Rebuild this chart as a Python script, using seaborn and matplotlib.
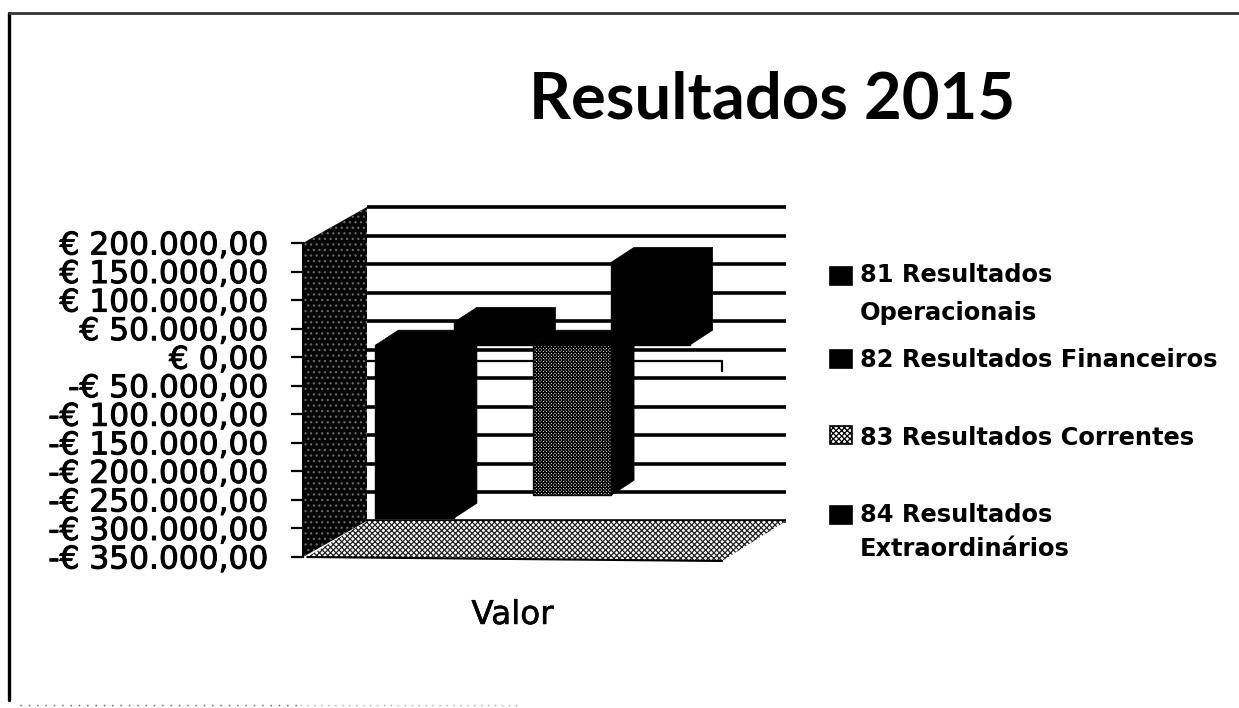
import pandas as pd
import seaborn as sb
import matplotlib.pyplot as plt
import matplotlib.patheffects as pe
from matplotlib.lines import Line2D
from matplotlib.patches import Polygon, Rectangle

W, H = 1239, 708

# values
categoria = ["Valor"]
series = ["81 Resultados Operacionais", "82 Resultados Financeiros",
          "83 Resultados Correntes", "84 Resultados Extraordinários"]
valores = [-303000, 40000, -263000, 145000]
legenda = ["81 Resultados\nOperacionais", "82 Resultados Financeiros",
           "83 Resultados Correntes", "84 Resultados\nExtraordinários"]
ticks = [200000, 150000, 100000, 50000, 0, -50000, -100000, -150000,
         -200000, -250000, -300000, -350000]


def euro(v):
    txt = "€ " + f"{abs(v):,.2f}".replace(",", "#").replace(".", ",").replace("#", ".")
    return "-" + txt if v < 0 else txt


def rect(left, top, right, bottom):
    return [left / W, 1 - bottom / H, (right - left) / W, (bottom - top) / H]


sb.set_style("white")
plt.rcParams['font.family'] = ['DejaVu Sans']
plt.rcParams['hatch.linewidth'] = 0.9

fig = plt.figure(figsize=(W / 100, H / 100), dpi=100, facecolor="white")

# front plane: wall, floor, back grid, y ticks
ax = fig.add_axes(rect(303, 243, 722, 557))
ax.patch.set_alpha(0)
ax.set_xlim(-0.5, 0.5)
ax.set_ylim(ticks[-1], ticks[0])

px_x = 1 / 419
px_y = (ticks[0] - ticks[-1]) / 314
back_dx, back_dy = 64 * px_x, 36 * px_y
bottom, top = ticks[-1], ticks[0]

ax.add_patch(Polygon([(-0.5, bottom), (-0.5, top), (-0.5 + back_dx, top + back_dy),
                      (-0.5 + back_dx, bottom + back_dy)], closed=True, clip_on=False,
                     facecolor="#050505", edgecolor="#666666", hatch="...", lw=0, zorder=2))
ax.add_patch(Polygon([(-0.49, bottom), (-0.5 + back_dx, bottom + back_dy),
                      (0.5 + back_dx, bottom + back_dy), (0.5, bottom - 4 * px_y)],
                     closed=True, clip_on=False, facecolor="white",
                     edgecolor="#222222", hatch="xxxxxx", lw=0, zorder=2))
for t in ticks:
    ax.plot([-0.5 + back_dx, 0.5 + back_dx], [t + back_dy, t + back_dy], color="black",
            lw=2.6, clip_on=False, zorder=1, solid_capstyle="butt")
ax.plot([-0.49, 0.5], [bottom, bottom - 4 * px_y], color="black", lw=1.5, clip_on=False, zorder=3)

# zero line of the front plane with its end tick
ax.plot([-0.5, 0.5, 0.5], [-7000, -7000, -25000], color="black", lw=1.6, clip_on=False, zorder=1)

for side in ["top", "right", "bottom"]:
    ax.spines[side].set_visible(False)
ax.spines["left"].set_linewidth(1.5)
ax.spines["left"].set_color("black")
ax.set_yticks(ticks)
ax.set_yticklabels([euro(t) for t in ticks], fontsize=22.5, color="black",
                   path_effects=[pe.withStroke(linewidth=0.7, foreground="black")])
ax.tick_params(axis="y", left=True, length=9, width=1.6, pad=16, color="black")
ax.set_xticks([0])
ax.set_xticklabels(categoria, fontsize=23.5, color="black",
                   path_effects=[pe.withStroke(linewidth=0.4, foreground="black")])
ax.tick_params(axis="x", bottom=False, pad=26)

# bars sit in a plane shifted into the depth of the box
ax_b = fig.add_axes(rect(323, 231, 742, 545))
ax_b.patch.set_alpha(0)
df = pd.DataFrame({"categoria": categoria * len(series), "serie": series, "valor": valores})
sb.barplot(data=df, x="categoria", y="valor", hue="serie", hue_order=series,
           palette=["black"] * 4, saturation=1, width=0.75, gap=0, legend=False, ax=ax_b)
ax_b.set_xlim(-0.5, 0.5)
ax_b.set_ylim(ticks[-1], ticks[0])
ax_b.axis("off")

depth_x, depth_y = 23 * px_x, 15 * px_y
for cont in ax_b.containers:
    for bar in cont:
        x0, x1 = bar.get_x(), bar.get_x() + bar.get_width()
        y0, y1 = sorted([bar.get_y(), bar.get_y() + bar.get_height()])
        ax_b.add_patch(Polygon([(x0, y1), (x0 + depth_x, y1 + depth_y), (x1 + depth_x, y1 + depth_y),
                                (x1 + depth_x, y0 + depth_y), (x1, y0), (x1, y1)], closed=True,
                               facecolor="black", edgecolor="black", lw=0.5, clip_on=False, zorder=1))
        bar.set_edgecolor("black")
        bar.set_linewidth(1)
        bar.set_zorder(2)
        bar.set_clip_on(False)

stipple = ax_b.containers[2][0]
stipple.set_facecolor("white")
stipple.set_edgecolor("black")
stipple.set_hatch("xxxxxxxxxx")
stipple.set_zorder(3)

fig.text(772 / W, 1 - 100 / H, "Resultados 2015", ha="center", va="center", fontsize=47,
         fontweight="bold", family="Lato", color="black")

# legend
marcas_y = [276, 359, 435, 515]
texto_y = [294, 360, 438, 532]
entrelinha = [1.7, 1.5, 1.5, 1.5]
for i, nome in enumerate(legenda):
    claro = i == 2
    fig.add_artist(Rectangle((830 / W, 1 - (marcas_y[i] + 9) / H), 22 / W, 18 / H,
                             transform=fig.transFigure, facecolor="white" if claro else "black",
                             edgecolor="black", hatch="xxxxxx" if claro else None, lw=1.2))
    fig.text(860 / W, 1 - texto_y[i] / H, nome, ha="left", va="center", fontsize=17.4,
             fontweight="bold", color="black", linespacing=entrelinha[i])

# edges left by the scan
fig.add_artist(Line2D([9 / W, 9 / W], [1 - 13 / H, 1 - 700 / H], transform=fig.transFigure,
                      color="black", lw=2.4))
fig.add_artist(Line2D([9 / W, 1], [1 - 13 / H, 1 - 13 / H], transform=fig.transFigure,
                      color="#333333", lw=2))
fig.add_artist(Line2D([20 / W, 300 / W], [1 - 705 / H, 1 - 705 / H], transform=fig.transFigure,
                      color="#555555", lw=1, linestyle=(0, (1, 5))))
fig.add_artist(Line2D([300 / W, 520 / W], [1 - 705 / H, 1 - 705 / H], transform=fig.transFigure,
                      color="#aaaaaa", lw=1, linestyle=(0, (1, 4))))

plt.savefig('out.png', dpi=100)
